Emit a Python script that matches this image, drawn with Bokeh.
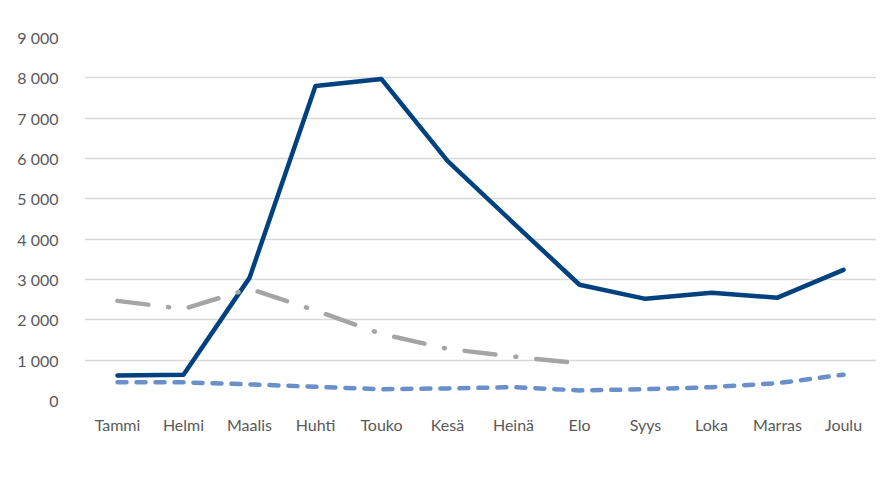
from bokeh.plotting import figure
from bokeh.models import ColumnDataSource, Legend, LegendItem, FixedTicker, Range1d
from bokeh.embed import file_html
from bokeh.resources import INLINE

months = ["Tammi", "Helmi", "Maalis", "Huhti", "Touko", "Kesä", "Heinä", "Elo", "Syys", "Loka", "Marras", "Joulu"]
v2019 = [450, 450, 400, 340, 280, 300, 330, 250, 280, 330, 430, 640]
v2020 = [620, 640, 3040, 7800, 7970, 5940, 4400, 2870, 2520, 2670, 2550, 3240]
months2021 = months[:8]
v2021 = [2470, 2270, 2770, 2230, 1650, 1280, 1090, 920]
yticks = [0, 1000, 2000, 3000, 4000, 5000, 6000, 7000, 8000, 9000]
ytick_labels = ["0", "1 000", "2 000", "3 000", "4 000", "5 000", "6 000", "7 000", "8 000", "9 000"]

FONT = "Lato"
TXT = "#595959"

xpos = list(range(len(months)))

p = figure(frame_width=792, frame_height=363, x_range=Range1d(-0.5, len(months) - 0.5),
           y_range=Range1d(0, 9000), output_backend="svg", toolbar_location=None,
           min_border_left=84, min_border_right=14, min_border_top=37, min_border_bottom=0)
p.outline_line_color = None
p.background_fill_color = "white"
p.border_fill_color = "white"

p.xgrid.grid_line_color = None
p.ygrid.grid_line_color = "#d9d9d9"
p.ygrid.grid_line_width = 1.5

p.xaxis.ticker = FixedTicker(ticks=xpos)
p.xaxis.major_label_overrides = {i: m for i, m in zip(xpos, months)}
p.yaxis.ticker = FixedTicker(ticks=yticks)
p.yaxis.major_label_overrides = {t: l for t, l in zip(yticks, ytick_labels)}
for ax in (p.xaxis[0], p.yaxis[0]):
    ax.axis_line_color = None
    ax.major_tick_line_color = None
    ax.minor_tick_line_color = None
    ax.major_label_text_font = FONT
    ax.major_label_text_font_size = "16px"
    ax.major_label_text_color = TXT
p.yaxis.major_label_standoff = 20
p.xaxis.major_label_standoff = 8

s19 = ColumnDataSource(dict(x=xpos, y=v2019))
s20 = ColumnDataSource(dict(x=xpos, y=v2020))
s21 = ColumnDataSource(dict(x=xpos[:len(months2021)], y=v2021))

r19 = p.line("x", "y", source=s19, line_color="#6a8fcb", line_width=4.5, line_dash="9 10", line_cap="round")
r20 = p.line("x", "y", source=s20, line_color="#00427f", line_width=4.5, line_join="round", line_cap="round")
r21 = p.line("x", "y", source=s21, line_color="#a5a5a5", line_width=4.5, line_dash="31 20 1 20", line_cap="round")

legend = Legend(items=[LegendItem(label="2019", renderers=[r19]),
                       LegendItem(label="2020", renderers=[r20]),
                       LegendItem(label="2021", renderers=[r21])],
                orientation="horizontal", location="top_center",
                label_text_font=FONT, label_text_font_size="16px", label_text_color=TXT,
                glyph_width=56, spacing=25, border_line_color=None, background_fill_alpha=0,
                margin=12, padding=10)
p.add_layout(legend, "below")

open("out.html", "w").write(file_html(p, INLINE))
